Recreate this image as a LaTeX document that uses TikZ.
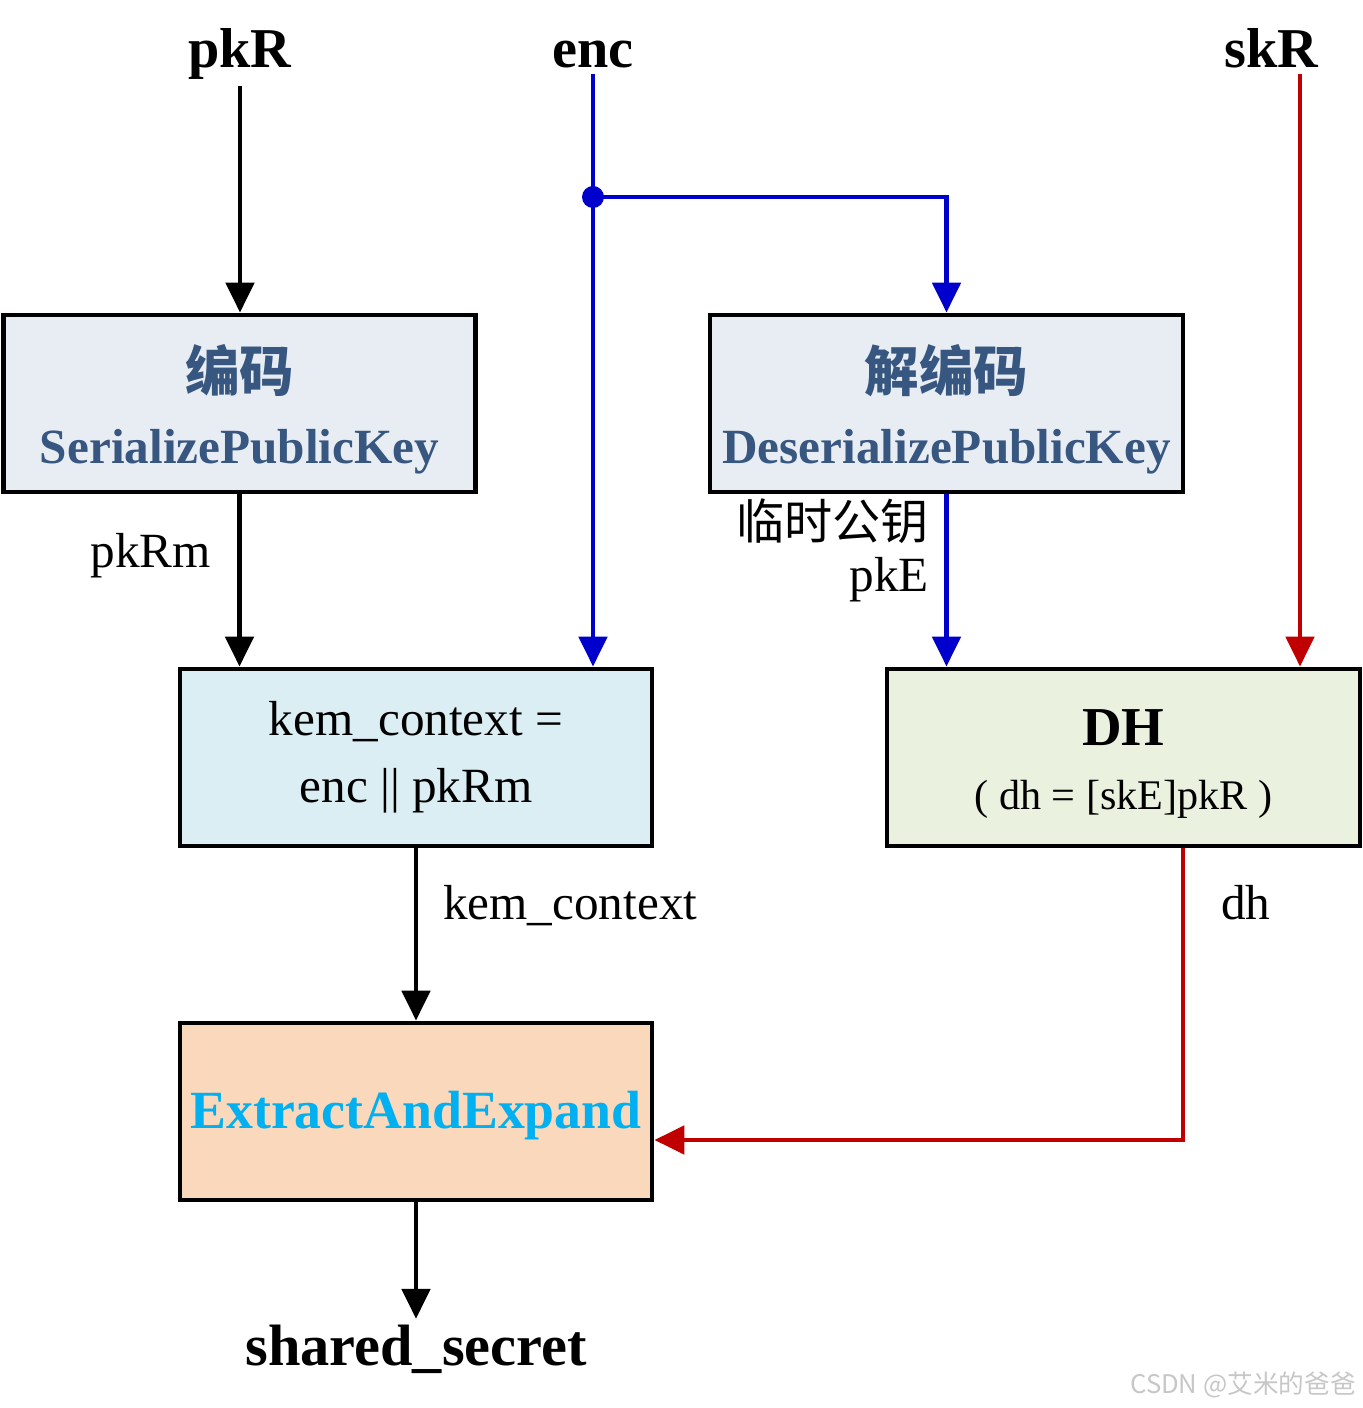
\documentclass[tikz,border=0pt]{standalone}
\usepackage{fontspec}
\setmainfont{Liberation Serif}
\newfontfamily\cjk{Noto Sans CJK SC}
\usetikzlibrary{arrows.meta}
\definecolor{boxtxt}{RGB}{55,87,128}
\definecolor{fillA}{RGB}{232,237,244}
\definecolor{fillB}{RGB}{219,238,244}
\definecolor{fillC}{RGB}{234,241,222}
\definecolor{fillD}{RGB}{250,216,188}
\definecolor{encblue}{RGB}{0,0,204}
\definecolor{skred}{RGB}{192,0,0}
\definecolor{eetxt}{RGB}{0,176,240}
\begin{document}
\begin{tikzpicture}[line width=1.25pt,
    box/.style={draw,line width=1.4pt,minimum width=4.72cm,minimum height=1.77cm,align=center,inner sep=0pt},
    arr/.style={-{Triangle[length=8.5pt,width=8pt]}},
    io/.style={font=\fontsize{16}{19}\selectfont\bfseries,anchor=base,inner sep=1pt},
    lbl/.style={font=\fontsize{14}{17}\selectfont,inner sep=0pt},
    dot/.style={circle,fill=encblue,inner sep=0pt,minimum size=0.22cm}]
  \useasboundingbox (0,0) rectangle (13.63,14.08);
  % inputs
  \node[io] (pkR) at (2.40,13.40) {pkR};
  \node[io] (enc) at (5.93,13.40) {enc};
  \node[io] (skR) at (12.71,13.40) {skR};
  % boxes
  \node[box,fill=fillA,text=boxtxt,font=\fontsize{14}{20.5}\selectfont\bfseries] (ser) at (2.395,10.045)
    {\\[-4pt]{\cjk\fontsize{15.5}{20.5}\selectfont 编码}\\SerializePublicKey};
  \node[box,fill=fillA,text=boxtxt,font=\fontsize{14}{20.5}\selectfont\bfseries,minimum width=4.73cm] (des) at (9.465,10.045)
    {\\[-4pt]{\cjk\fontsize{15.5}{20.5}\selectfont 解编码}\\DeserializePublicKey};
  \node[box,fill=fillB,font=\fontsize{14}{19}\selectfont] (kem) at (4.16,6.505)
    {kem\_context =\\enc || pkRm};
  \node[box,fill=fillC,font=\fontsize{12}{18}\selectfont,minimum width=4.73cm] (dh) at (11.235,6.505)
    {\\[-4pt]{\fontsize{15.6}{18}\selectfont\bfseries DH}\\( dh = [skE]pkR )};
  \node[box,fill=fillD,text=eetxt,font=\fontsize{15.3}{18}\selectfont\bfseries] (ee) at (4.16,2.965)
    {\\[-5pt]ExtractAndExpand};
  \node[io,font=\fontsize{16.6}{19}\selectfont\bfseries] (shared) at (4.16,0.43) {shared\_secret};
  % connectors
  \node[dot] (split) at (enc.south |- 0,12.11) {};
  \coordinate (skRin) at (13.00,0 |- skR.south);
  \coordinate (dhout) at (11.83,0 |- dh.south);
  \draw[arr] (pkR.south) -- (pkR.south |- ser.north);
  \draw[arr] (ser.south) -- (ser.south |- kem.north);
  \draw[arr,encblue] (enc.south) -- (enc.south |- kem.north);
  \draw[arr,encblue] (split.center) -| (des.north);
  \draw[arr,encblue] (des.south) -- (des.south |- dh.north);
  \draw[arr,skred] (skRin) -- (skRin |- dh.north);
  \draw[arr,skred] (dhout) |- ([yshift=-0.285cm]ee.east);
  \draw[arr] (kem) -- (ee);
  \draw[arr] (ee) -- (shared);
  % labels
  \node[lbl,anchor=base east] (pkRm) at (2.13,8.40) {pkRm};
  \node[lbl,anchor=base east,font=\cjk\fontsize{13.7}{17}\selectfont] (tmp) at (9.31,8.68) {临时公钥};
  \node[lbl,anchor=base east] (pkE) at (9.31,8.16) {pkE};
  \node[lbl,anchor=base west] (ctx) at (4.41,4.88) {kem\_context};
  \node[lbl,anchor=base west] (dhl) at (12.19,4.88) {dh};
  \node[anchor=base east,inner sep=0pt,text=black!22,font=\cjk\fontsize{7.3}{9}\selectfont] (mark) at (13.58,0.14) {CSDN @艾米的爸爸};
\end{tikzpicture}
\end{document}
